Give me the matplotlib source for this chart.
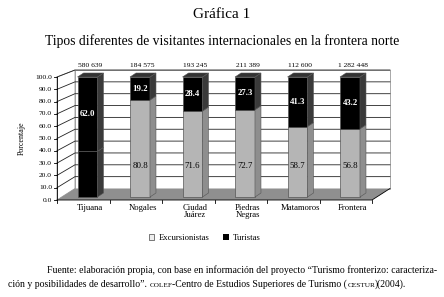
import numpy as np
import matplotlib.pyplot as plt
from matplotlib.patches import Polygon, Patch

# Datos (porcentajes por ciudad)
ciudades = ["Tijuana", "Nogales", "Ciudad\nJuárez", "Piedras\nNegras", "Matamoros", "Frontera"]
totales = ["580 639", "184 575", "193 245", "211 389", "112 600", "1 282 448"]
excursionistas = [38.0, 80.8, 71.6, 72.7, 58.7, 56.8]
turistas = [62.0, 19.2, 28.4, 27.3, 41.3, 43.2]
yticks = np.arange(0, 101, 10)

plt.rcParams["font.family"] = ["Liberation Serif", "DejaVu Serif"]

W, H = 444, 297
fig = plt.figure(figsize=(W / 100, H / 100), dpi=100)
ax = fig.add_axes([0, 0, 1, 1])

# plano de las barras: px_x = x0 + sx*x ; px_y = y0 - sy*v
x0, sx = 87.5, 52.5
y0, sy = 197.0, 1.2
ax.set_xlim(-x0 / sx, (W - x0) / sx)
ax.set_ylim((y0 - H) / sy, y0 / sy)
ax.axis("off")


def px(xp, yp):
    # pixel -> datos (solo para el marco 3D)
    return ((xp - x0) / sx, (y0 - yp) / sy)


def y_front(v):
    return 200 - 1.23 * v


def y_back(v):
    return 188.5 - 1.185 * v


# pared del fondo
ax.add_patch(Polygon([px(75, y_back(0)), px(390, y_back(0)), px(390, y_back(100)), px(75, y_back(100))],
                     closed=True, facecolor="white", edgecolor="#9a9a9a", lw=0.6, zorder=0))
# pared izquierda
ax.add_patch(Polygon([px(57, y_front(0)), px(75, y_back(0)), px(75, y_back(100)), px(57, y_front(100))],
                     closed=True, facecolor="white", edgecolor="#9a9a9a", lw=0.6, zorder=0))
for v in yticks[1:]:
    xs, ys = zip(px(57, y_front(v)), px(75, y_back(v)), px(390, y_back(v)))
    ax.plot(xs, ys, color="#222222", lw=0.6, zorder=1)

# piso
ax.add_patch(Polygon([px(57, y_front(0)), px(372, y_front(0)), px(390, y_back(0)), px(75, y_back(0))],
                     closed=True, facecolor="#8f8f8f", edgecolor="none", zorder=1))
xs, ys = zip(px(57, y_front(0)), px(372, y_front(0)), px(390, y_back(0)))
ax.plot(xs, ys, color="black", lw=0.6, zorder=2)
for k in range(7):
    xs, ys = zip(px(57 + 52.5 * k, y_front(0)), px(57 + 52.5 * k, y_front(0) + 3))
    ax.plot(xs, ys, color="black", lw=0.6, zorder=2)

# eje y
xs, ys = zip(px(57, y_front(0)), px(57, y_front(100)))
ax.plot(xs, ys, color="black", lw=0.6, zorder=2)
for v in yticks:
    xs, ys = zip(px(54, y_front(v)), px(57, y_front(v)))
    ax.plot(xs, ys, color="black", lw=0.6, zorder=2)
    ax.text(*px(52, y_front(v)), f"{v:.1f}", ha="right", va="center", fontsize=5.4)
ax.text(*px(22, 138), "Porcentaje", rotation=90, ha="center", va="center", fontsize=5.8)

# barras
x = np.arange(len(ciudades))
w = 0.38
hw = w / 2
ddx, ddy = 6 / sx, 4 / sy
exc_col = ["black", "#b5b5b5", "#b5b5b5", "#b5b5b5", "#b5b5b5", "#b5b5b5"]
exc_side = ["#3a3a3a", "#8e8e8e", "#8e8e8e", "#8e8e8e", "#8e8e8e", "#8e8e8e"]
ax.bar(x, excursionistas, width=w, color=exc_col, edgecolor="#555555", lw=0.5, zorder=3)
ax.bar(x, turistas, width=w, bottom=excursionistas, color="black", edgecolor="#555555", lw=0.5, zorder=3)

for i in range(len(x)):
    segs = [(0, excursionistas[i], exc_side[i]),
            (excursionistas[i], excursionistas[i] + turistas[i], "#3a3a3a")]
    for b, t, c in segs:
        ax.add_patch(Polygon([(x[i] + hw, b), (x[i] + hw + ddx, b + ddy),
                              (x[i] + hw + ddx, t + ddy), (x[i] + hw, t)],
                             closed=True, facecolor=c, edgecolor="#555555", lw=0.4, zorder=3))
    top = excursionistas[i] + turistas[i]
    ax.add_patch(Polygon([(x[i] - hw, top), (x[i] - hw + ddx, top + ddy),
                          (x[i] + hw + ddx, top + ddy), (x[i] + hw, top)],
                         closed=True, facecolor="#333333", edgecolor="#555555", lw=0.4, zorder=3))
    # etiquetas
    ax.text(x[i], excursionistas[i] + turistas[i] / 2, f"{turistas[i]:.1f}", ha="center", va="center",
            color="white", fontweight="bold", fontsize=6.3, zorder=4)
    if i > 0:  # Tijuana no muestra la parte inferior
        ax.text(x[i], 26, f"{excursionistas[i]:.1f}", ha="center", va="center",
                fontsize=6.3, zorder=4)
    ax.text(x[i] + 0.05, 110, totales[i], ha="center", va="center", fontsize=5.4)
    ax.text(x[i] + 0.05, px(0, 204)[1], ciudades[i], ha="center", va="top", fontsize=6.2,
            linespacing=0.85)

# leyenda
ax.legend(handles=[Patch(facecolor="#eeeeee", edgecolor="#444444", lw=0.5), Patch(facecolor="black")],
          labels=["Excursionistas", "Turistas"], loc="center",
          bbox_to_anchor=(205 / W, 1 - 238 / H), bbox_transform=fig.transFigure,
          ncol=2, frameon=False, fontsize=6.2, handlelength=0.6, handleheight=0.6,
          handletextpad=0.5, columnspacing=1.6)

# títulos
fig.text(0.5, 1 - 15 / H, "Gráfica 1", ha="center", va="center", fontsize=11)
fig.text(0.5, 1 - 41 / H, "Tipos diferentes de visitantes internacionales en la frontera norte",
         ha="center", va="center", fontsize=9.8)

# fuente (con versalitas simuladas)
renderer = fig.canvas.get_renderer()


def linea(xp, yp, partes):
    for texto, fs in partes:
        t = fig.text(xp / W, 1 - yp / H, texto, ha="left", va="baseline", fontsize=fs)
        xp += t.get_window_extent(renderer).width


linea(47, 273, [("Fuente: elaboración propia, con base en información del proyecto “Turismo fronterizo: caracteriza-", 7.0)])
linea(8, 287, [("ción y posibilidades de desarrollo”. ", 7.0), ("COLEF", 5.2),
               ("-Centro de Estudios Superiores de Turismo (", 7.0), ("CESTUR", 5.2), (")(2004).", 7.0)])

fig.savefig("out.png", dpi=100)
